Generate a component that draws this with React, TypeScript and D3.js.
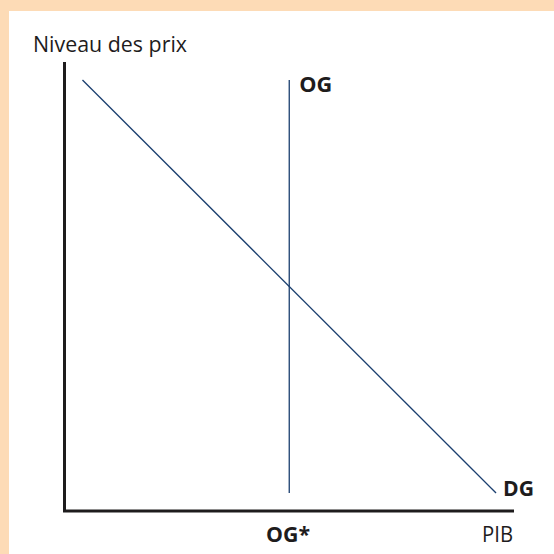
import * as d3 from "d3";
import { useEffect, useRef } from "react";

// axis domain is 0..100 on both sides
const demandLine: [number, number][] = [
  [4, 96],
  [96, 4],
];
const supplyX = 50;
const supplyRange: [number, number] = [4, 96];

const yTitle = "Niveau des prix";
const xTitle = "PIB";
const supplyLabel = "OG";
const supplyTick = "OG*";
const demandLabel = "DG";

const FONT = "'Open Sans', 'Noto Sans', sans-serif";
const LINE = "#1b3f6f";
const INK = "#1e1c1d";

function drawChart(svgElement: SVGSVGElement) {
  const size = 554;
  const svg = d3.select(svgElement);
  svg.selectAll("*").remove();
  svg.attr("viewBox", `0 0 ${size} ${size}`);

  svg.append("rect").attr("width", size).attr("height", size).attr("fill", "#fddbb6");
  svg.append("rect").attr("x", 9).attr("y", 11).attr("width", size - 9).attr("height", size - 11).attr("fill", "#ffffff");

  const x = d3.scaleLinear().domain([0, 100]).range([64.5, 514]);
  const y = d3.scaleLinear().domain([0, 100]).range([511, 62]);

  // axes
  svg
    .append("path")
    .attr("d", `M${x(0)},${y(100)} L${x(0)},${y(0)} L${x(100)},${y(0)}`)
    .attr("fill", "none")
    .attr("stroke", INK)
    .attr("stroke-width", 3);

  const line = d3
    .line<[number, number]>()
    .x((d) => x(d[0]))
    .y((d) => y(d[1]));

  svg.append("path").attr("d", line(demandLine)).attr("fill", "none").attr("stroke", LINE).attr("stroke-width", 1.3);

  svg
    .append("path")
    .attr("d", line([[supplyX, supplyRange[0]], [supplyX, supplyRange[1]]]))
    .attr("fill", "none")
    .attr("stroke", LINE)
    .attr("stroke-width", 1.3);

  const text = (label: string, tx: number, ty: number, bold: boolean, len: number) => {
    svg
      .append("text")
      .attr("x", tx)
      .attr("y", ty)
      .attr("font-family", FONT)
      .attr("font-size", bold ? 20.5 : 21)
      .attr("font-weight", bold ? 700 : 400)
      .attr("fill", INK)
      .attr("textLength", len)
      .attr("lengthAdjust", "spacingAndGlyphs")
      .text(label);
  };

  text(yTitle, 33, 52, false, 154);
  text(xTitle, 482, 542, false, 31);
  text(supplyTick, 266, 542, true, 44);
  text(supplyLabel, x(supplyX) + 10, 92, true, 33);
  text(demandLabel, x(demandLine[1][0]) + 7, 496, true, 31);
}

export default function App() {
  const svgRef = useRef<SVGSVGElement>(null);

  useEffect(() => {
    if (svgRef.current) drawChart(svgRef.current);
  }, []);

  return (
    <svg
      ref={svgRef}
      width={554}
      height={554}
      style={{ position: "absolute", left: 0, top: 0 }}
      role="img"
      aria-label="Offre et demande globales"
    />
  );
}
